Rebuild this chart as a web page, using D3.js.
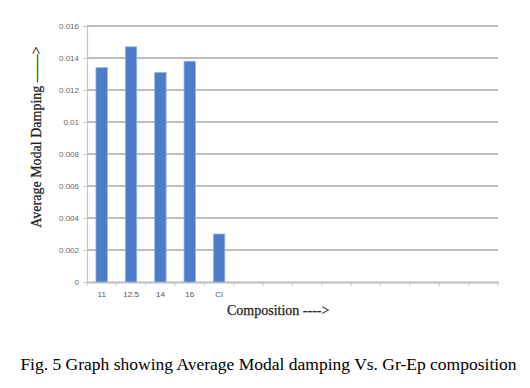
<!DOCTYPE html>
<html>
<head>
<meta charset="utf-8">
<script src="https://cdn.jsdelivr.net/npm/d3@7"></script>
<style>
  body { margin: 0; background: #fff; }
  svg { display: block; }
</style>
</head>
<body>
<div id="chart"></div>
<script>
const width = 530, height = 388;

// categories (only the first five carry data, the rest are empty slots)
const categories = ["11", "12.5", "14", "16", "Cl", "c6", "c7", "c8", "c9", "c10", "c11", "c12", "c13", "c14"];
const tickLabels = ["11", "12.5", "14", "16", "Cl", "", "", "", "", "", "", "", "", ""];
const damping = [0.0134, 0.0147, 0.0131, 0.0138, 0.0030];
const yTicks = [0, 0.002, 0.004, 0.006, 0.008, 0.01, 0.012, 0.014, 0.016];

const margin = {left: 87, right: 32, top: 26, bottom: 106};

const svg = d3.select("#chart").append("svg")
  .attr("width", width).attr("height", height);

const x = d3.scaleBand().domain(categories)
  .range([margin.left, width - margin.right])
  .paddingInner(0.61).paddingOuter(0.305);

const y = d3.scaleLinear().domain([0, 0.016])
  .range([height - margin.bottom, margin.top]);

// gridlines
svg.append("g").selectAll("line").data(yTicks.slice(1)).join("line")
  .attr("x1", margin.left).attr("x2", width - margin.right)
  .attr("y1", d => y(d)).attr("y2", d => y(d))
  .attr("stroke", "#bdbdbd").attr("stroke-width", 1.8);

// y axis
const yAxis = svg.append("g")
  .attr("transform", `translate(${margin.left},0)`)
  .call(d3.axisLeft(y).tickValues(yTicks).tickSize(4).tickFormat(d => d === 0 ? "0" : String(+d.toFixed(3))));
yAxis.select(".domain").attr("stroke", "#c4c4c4").attr("stroke-width", 1.2);
yAxis.selectAll(".tick line").attr("stroke", "#c4c4c4");
yAxis.selectAll("text").attr("fill", "#666").attr("font-size", 8)
  .attr("font-family", "Liberation Sans, sans-serif").attr("x", -8);

// x axis
const xAxis = svg.append("g")
  .attr("transform", `translate(0,${y(0)})`)
  .call(d3.axisBottom(x).tickSize(0).tickFormat((d, i) => tickLabels[i]));
xAxis.select(".domain").attr("stroke", "#bdbdbd").attr("stroke-width", 1.8);
xAxis.selectAll("text").attr("fill", "#555").attr("font-size", 8)
  .attr("font-family", "Liberation Sans, sans-serif").attr("dy", "1.5em");

// category boundary ticks
const step = x.step();
const bounds = d3.range(categories.length + 1).map(i => margin.left + i * step);
svg.append("g").selectAll("line").data(bounds).join("line")
  .attr("x1", d => d).attr("x2", d => d)
  .attr("y1", y(0)).attr("y2", y(0) + 4)
  .attr("stroke", "#c4c4c4");

// bars
svg.append("g").selectAll("rect").data(damping).join("rect")
  .attr("x", (d, i) => x(categories[i]))
  .attr("width", x.bandwidth())
  .attr("y", d => y(d))
  .attr("height", d => y(0) - y(d))
  .attr("fill", "#4a7ec8")
  .attr("stroke", "#9bb8e0").attr("stroke-width", 0.8);

// axis titles
svg.append("text")
  .attr("transform", "translate(41,137) rotate(-90)")
  .attr("text-anchor", "middle")
  .attr("font-family", "Liberation Serif, serif").attr("font-size", 14)
  .attr("fill", "#222").attr("stroke", "#222").attr("stroke-width", 0.25)
  .text("Average Modal Damping ——>");

svg.append("text")
  .attr("x", 227).attr("y", 315)
  .attr("font-family", "Liberation Serif, serif").attr("font-size", 14)
  .attr("fill", "#222").attr("stroke", "#222").attr("stroke-width", 0.25)
  .text("Composition ---->");

// caption
svg.append("text")
  .attr("x", 268.5).attr("y", 370)
  .attr("text-anchor", "middle")
  .attr("font-family", "Liberation Serif, serif").attr("font-size", 17.5)
  .attr("fill", "#000")
  .text("Fig. 5 Graph showing Average Modal damping Vs. Gr-Ep composition");
</script>
</body>
</html>
